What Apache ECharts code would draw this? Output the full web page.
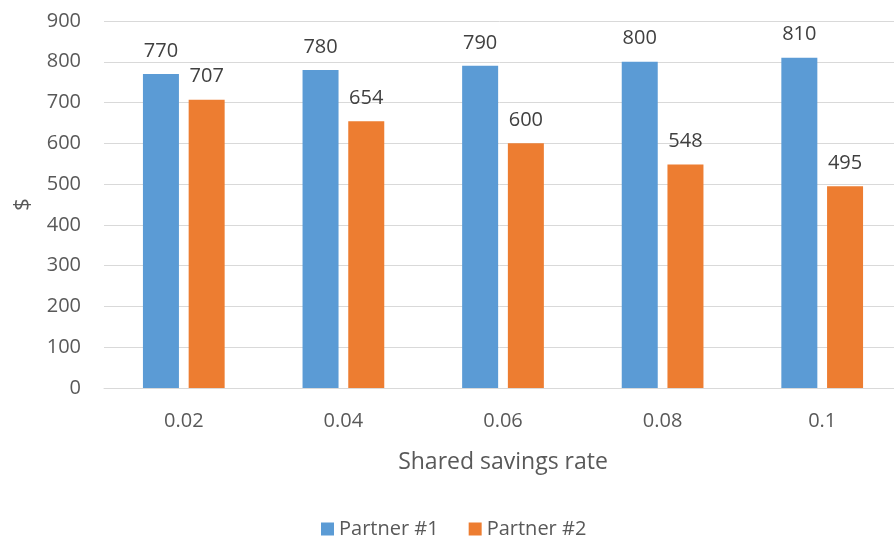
<!DOCTYPE html>
<html>
<head>
<meta charset="utf-8">
<script src="https://cdn.jsdelivr.net/npm/echarts@6/dist/echarts.min.js"></script>
<style>
  html, body { margin: 0; padding: 0; background: #fff; }
  #chart { width: 894px; height: 538px; }
</style>
</head>
<body>
<div id="chart"></div>
<script>
const rates = ['0.02', '0.04', '0.06', '0.08', '0.1']
const partner1 = [770, 780, 790, 800, 810]
const partner2 = [707, 654, 600, 548, 495]
const yTicks = { min: 0, max: 900, interval: 100 }

const textColor = '#595959'
const fontFamily = '"Open Sans", sans-serif'

const chart = echarts.init(document.getElementById('chart'))

const labelStyle = {
  show: true,
  position: 'top',
  distance: 13,
  color: '#404040',
  fontSize: 20,
  fontFamily: fontFamily
}

const option = {
  animation: false,
  textStyle: { fontFamily: fontFamily },
  grid: {
    left: 104,
    width: 798,
    top: 21,
    bottom: 150,
    containLabel: false,
    outerBoundsMode: 'none'
  },
  legend: {
    data: ['Partner #1', 'Partner #2'],
    left: 316,
    top: 514,
    itemWidth: 13,
    itemHeight: 13,
    itemGap: 30,
    icon: 'rect',
    textStyle: { color: textColor, fontSize: 20, fontFamily: fontFamily }
  },
  xAxis: {
    type: 'category',
    data: rates,
    axisTick: { show: false },
    axisLine: { lineStyle: { color: '#d9d9d9', width: 1 } },
    axisLabel: { color: textColor, fontSize: 20, margin: 23, fontFamily: fontFamily },
    name: 'Shared savings rate',
    nameLocation: 'middle',
    nameGap: 63,
    nameTextStyle: { color: textColor, fontSize: 23, fontFamily: fontFamily }
  },
  yAxis: {
    type: 'value',
    min: yTicks.min,
    max: yTicks.max,
    interval: yTicks.interval,
    axisLine: { show: false },
    axisTick: { show: false },
    splitLine: { lineStyle: { color: '#d9d9d9', width: 1 } },
    axisLabel: { color: textColor, fontSize: 20, margin: 23, fontFamily: fontFamily },
    name: '$',
    nameLocation: 'middle',
    nameGap: 70,
    nameTextStyle: { color: textColor, fontSize: 22, fontFamily: fontFamily }
  },
  series: [
    {
      name: 'Partner #1',
      type: 'bar',
      data: partner1,
      barWidth: 36,
      barGap: '27%',
      itemStyle: { color: '#5B9BD5' },
      label: labelStyle
    },
    {
      name: 'Partner #2',
      type: 'bar',
      data: partner2,
      barWidth: 36,
      barGap: '27%',
      itemStyle: { color: '#ED7D31' },
      label: labelStyle
    }
  ]
}

chart.setOption(option)
</script>
</body>
</html>
